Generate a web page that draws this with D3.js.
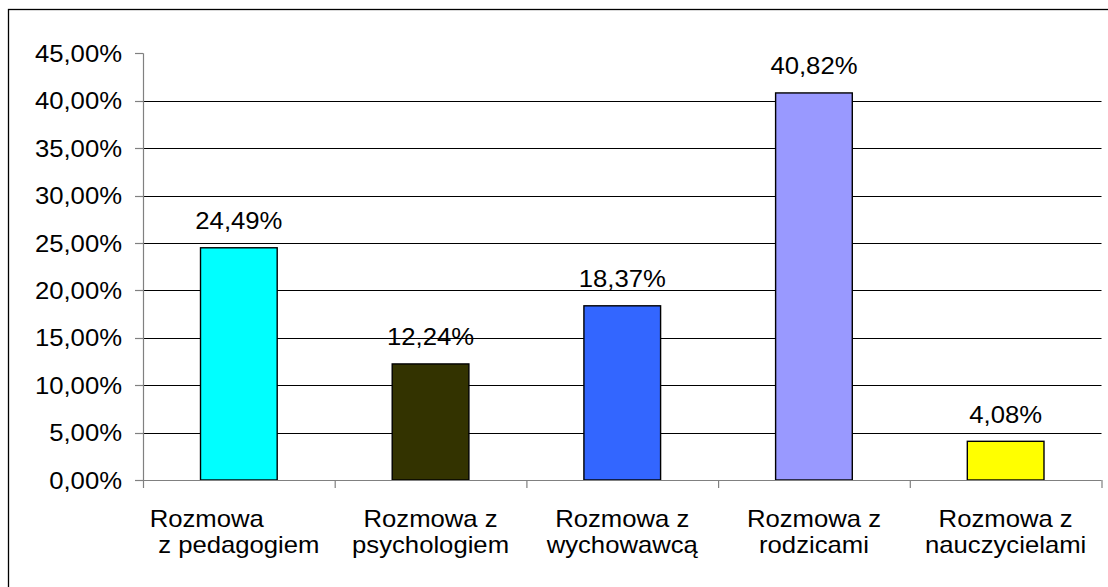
<!DOCTYPE html>
<html>
<head>
<meta charset="utf-8">
<script src="https://cdn.jsdelivr.net/npm/d3@7"></script>
<style>
  html, body { margin: 0; padding: 0; background: #fff; overflow: hidden; }
  svg { display: block; }
  text { font-family: "Liberation Sans", Arial, sans-serif; fill: #000; }
</style>
</head>
<body>
<svg id="chart" width="1108" height="587"></svg>
<script>
// ---- data ----
const categories = [
  ["Rozmowa         ", "z pedagogiem"],
  ["Rozmowa z", "psychologiem"],
  ["Rozmowa z", "wychowawcą"],
  ["Rozmowa z", "rodzicami"],
  ["Rozmowa z", "nauczycielami"]
];
const values = [24.49, 12.24, 18.37, 40.82, 4.08];
const colors = ["#00FFFF", "#333300", "#3366FF", "#9999FF", "#FFFF00"];
const yTicks = [0, 5, 10, 15, 20, 25, 30, 35, 40, 45];

// ---- layout ----
const W = 1108, H = 587;
const plot = { left: 143, right: 1101.5, top: 53.3, bottom: 480 };
const fontSize = 24, stretch = 1.07;

const svg = d3.select("#chart");
const fmt = v => d3.format(".2f")(v).replace(".", ",") + "%";

// outer frame (extends beyond the visible area on right/bottom)
svg.append("rect")
  .attr("x", 8.5).attr("y", 9.5)
  .attr("width", W + 20).attr("height", H + 20)
  .attr("fill", "#fff").attr("stroke", "#000").attr("stroke-width", 1.3);

const x = d3.scaleBand()
  .domain(d3.range(categories.length))
  .range([plot.left, plot.right])
  .padding(0);
const y = d3.scaleLinear().domain([0, 45]).range([plot.bottom, plot.top]);

// gridlines (not at 0 or at the top)
svg.append("g").selectAll("line")
  .data(yTicks.filter(t => t > 0 && t < 45))
  .join("line")
  .attr("x1", plot.left).attr("x2", plot.right)
  .attr("y1", d => Math.round(y(d)) + 0.5).attr("y2", d => Math.round(y(d)) + 0.5)
  .attr("stroke", "#000").attr("stroke-width", 1);

// y axis
const yAxis = svg.append("g");
yAxis.append("line")
  .attr("x1", plot.left + 0.5).attr("x2", plot.left + 0.5)
  .attr("y1", y(45)).attr("y2", y(0))
  .attr("stroke", "#808080").attr("stroke-width", 1.2);
yAxis.selectAll("line.tick")
  .data(yTicks).join("line").attr("class", "tick")
  .attr("x1", plot.left - 8).attr("x2", plot.left)
  .attr("y1", d => Math.round(y(d)) + 0.5).attr("y2", d => Math.round(y(d)) + 0.5)
  .attr("stroke", "#808080").attr("stroke-width", 1.2);
yAxis.selectAll("g.lbl")
  .data(yTicks).join("g").attr("class", "lbl")
  .attr("transform", d => `translate(${plot.left - 21},${y(d) + 8.6}) scale(${stretch},1)`)
  .append("text")
  .attr("text-anchor", "end")
  .attr("font-size", fontSize)
  .text(d => fmt(d));

// bars
const barW = x.step() * 0.4;
svg.append("g").selectAll("rect")
  .data(values).join("rect")
  .attr("x", (d, i) => x(i) + x.step() / 2 - barW / 2)
  .attr("y", d => y(d))
  .attr("width", barW)
  .attr("height", d => y(0) - y(d))
  .attr("fill", (d, i) => colors[i])
  .attr("stroke", "#000").attr("stroke-width", 1.4);

// value labels
svg.append("g").selectAll("g")
  .data(values).join("g")
  .attr("transform", (d, i) => `translate(${x(i) + x.step() / 2},${y(d) - 18.7}) scale(${stretch},1)`)
  .append("text")
  .attr("text-anchor", "middle")
  .attr("font-size", fontSize)
  .text(d => fmt(d));

// x axis
const xAxis = svg.append("g");
xAxis.append("line")
  .attr("x1", plot.left).attr("x2", plot.right)
  .attr("y1", plot.bottom + 0.5).attr("y2", plot.bottom + 0.5)
  .attr("stroke", "#808080").attr("stroke-width", 1.2);
xAxis.selectAll("line.tick")
  .data(d3.range(categories.length + 1)).join("line").attr("class", "tick")
  .attr("x1", i => (i < categories.length ? x(i) : plot.right) + 0.5)
  .attr("x2", i => (i < categories.length ? x(i) : plot.right) + 0.5)
  .attr("y1", plot.bottom).attr("y2", plot.bottom + 8)
  .attr("stroke", "#808080").attr("stroke-width", 1.2);

const catG = xAxis.selectAll("g.cat")
  .data(categories).join("g").attr("class", "cat");
catG.selectAll("g.line")
  .data((d, i) => d.map((t, j) => ({ t, i, j })))
  .join("g").attr("class", "line")
  .attr("transform", d => `translate(${x(d.i) + x.step() / 2},${plot.bottom + 46.7 + d.j * 26.6}) scale(${stretch},1)`)
  .append("text")
  .attr("text-anchor", "middle")
  .attr("font-size", fontSize)
  .attr("xml:space", "preserve")
  .style("white-space", "pre")
  .text(d => d.t);
</script>
</body>
</html>
